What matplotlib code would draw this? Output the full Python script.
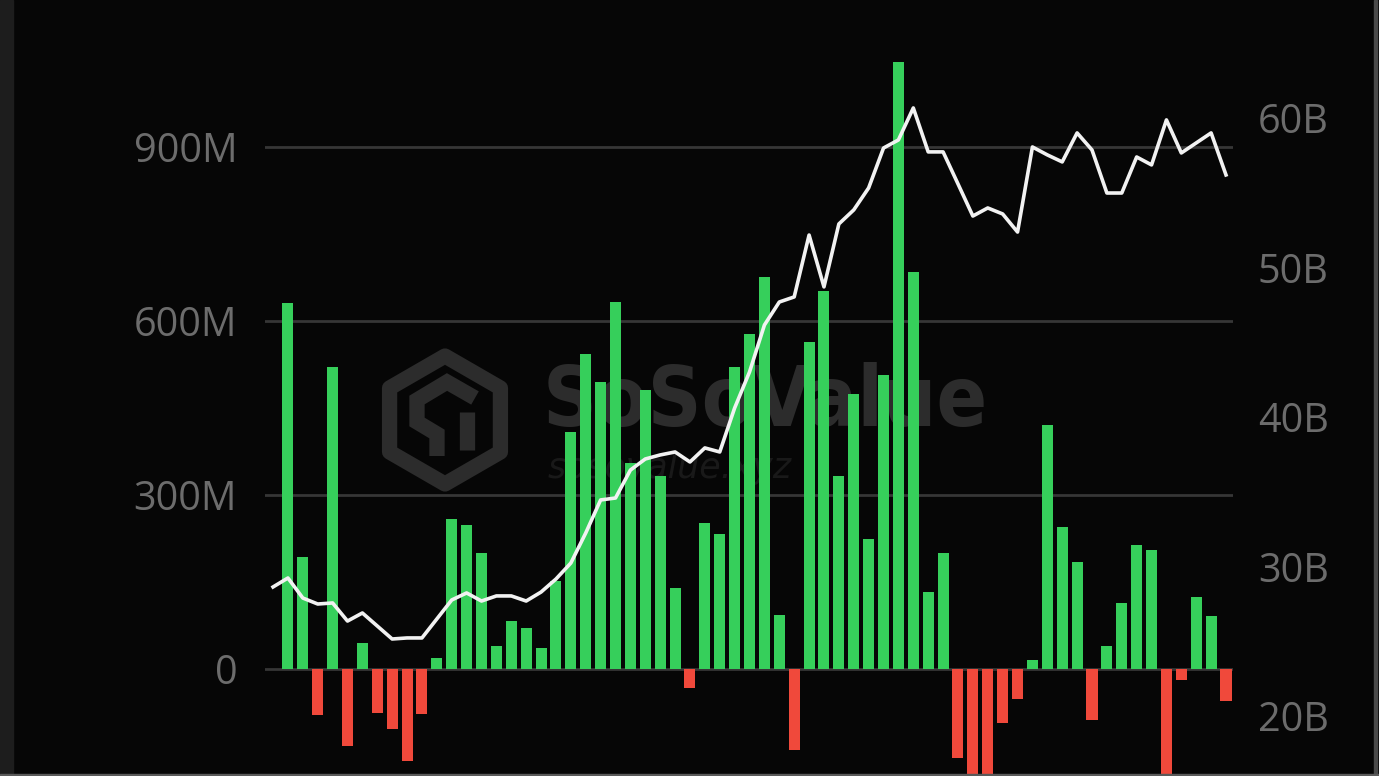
import matplotlib
matplotlib.use("Agg")
import matplotlib.pyplot as plt
from matplotlib.patches import Polygon, Rectangle
import numpy as np

# Daily net inflow (millions USD)
net_inflow_m = [0, 631, 193, -79, 521, -133, 45, -76, -104, -159, -78, 19, 258, 248, 200,
                40, 83, 71, 36, 152, 409, 543, 494, 633, 355, 481, 333, 139, -33, 252,
                233, 520, 577, 675, 93, -139, 564, 651, 333, 474, 224, 507, 1046, 684,
                133, 200, -153, -210, -200, -93, -52, 16, 420, 244, 184, -88, 40, 114,
                213, 205, -195, -19, 124, 92, -55]

# Total net assets (billions USD)
net_assets_b = [28.63, 29.23, 27.89, 27.49, 27.56, 26.35, 26.89, 26.02, 25.15, 25.22, 25.22,
                26.49, 27.76, 28.23, 27.69, 28.03, 28.03, 27.69, 28.29, 29.16, 30.23, 32.24,
                34.45, 34.58, 36.45, 37.19, 37.46, 37.66, 36.99, 37.93, 37.66, 40.60, 43.01,
                46.15, 47.69, 48.03, 52.17, 48.70, 52.91, 53.85, 55.32, 57.99, 58.53, 60.67,
                57.73, 57.73, 55.59, 53.44, 53.98, 53.58, 52.37, 58.06, 57.53, 57.06, 59.00,
                57.86, 54.98, 54.98, 57.39, 56.86, 59.87, 57.66, 58.33, 59.00, 56.19]

left_ticks = [0, 300, 600, 900]
left_labels = ["0", "300M", "600M", "900M"]
right_ticks = [20, 30, 40, 50, 60]
right_labels = ["20B", "30B", "40B", "50B", "60B"]

BG = "#060606"
GREEN = "#36cf5b"
RED = "#f0493b"
GRID = "#363636"
TXT = "#6c6c6c"
WM = "#2c2c2c"

fig = plt.figure(figsize=(13.79, 7.76), dpi=100, facecolor=BG)
W, H = 1379, 776


def fx(px):
    return px / W


def fy(py):
    return 1 - py / H


# frame decorations of the screenshot
fig.add_artist(Rectangle((0, 0), 13 / W, 1, transform=fig.transFigure, color="#1d1d1d", zorder=0))
fig.add_artist(Rectangle((1374 / W, 0), 3 / W, 1, transform=fig.transFigure, color="#4a4a4a", zorder=0))
fig.add_artist(Rectangle((0, 0), 1, 2.5 / H, transform=fig.transFigure, color="#5a5a5a", zorder=5))

ax = fig.add_axes([265 / W, 2 / H, 968 / W, 774 / H])
ax.set_facecolor(BG)
ax.patch.set_alpha(0)

# watermark (drawn below bars, inside the axes)
cx, cy, r = 445, 420, 64
hexpts = [(fx(cx + r * np.cos(np.radians(a))), fy(cy + r * np.sin(np.radians(a))))
          for a in (-90, -30, 30, 90, 150, 210)]
ax.add_patch(Polygon(hexpts, closed=True, transform=fig.transFigure, facecolor="none",
                     edgecolor=WM, lw=11, joinstyle="round", zorder=0.5, clip_on=False))
# inner S-shaped cube strokes
s_path = [(cx + 30, cy - 22), (cx + 2, cy - 38), (cx - 28, cy - 20), (cx - 28, cy + 2),
          (cx - 8, cy + 14), (cx - 8, cy + 36)]
ax.plot([fx(p[0]) for p in s_path], [fy(p[1]) for p in s_path], transform=fig.transFigure,
        color=WM, lw=11, solid_capstyle="butt", solid_joinstyle="miter", zorder=0.5, clip_on=False)
ax.plot([fx(cx + 22), fx(cx + 22)], [fy(cy - 8), fy(cy + 30)], transform=fig.transFigure,
        color=WM, lw=11, solid_capstyle="butt", zorder=0.5, clip_on=False)
ax.text(fx(543), fy(402), "SoSoValue", fontsize=60, fontweight="bold", color=WM,
        fontstretch="condensed", ha="left", va="center", family="DejaVu Sans",
        transform=fig.transFigure, zorder=0.5, clip_on=False)
ax.text(fx(548), fy(468), "sosovalue.xyz", fontsize=25, style="italic", color="#191919",
        ha="left", va="center", family="DejaVu Sans", transform=fig.transFigure, zorder=0.5,
        clip_on=False)

x = np.arange(len(net_inflow_m))
colors = [GREEN if v >= 0 else RED for v in net_inflow_m]
ax.bar(x, net_inflow_m, width=0.74, color=colors, zorder=3)

ax.set_xlim(-0.54, 64.47)
ax.set_ylim(-181, 1153.4)
ax.set_yticks(left_ticks)
ax.set_yticklabels(left_labels)
for t in left_ticks:
    ax.axhline(t, color=GRID, lw=2.0, zorder=1)
ax.set_xticks([])
ax.tick_params(axis="y", length=0, pad=20, labelsize=28.5, labelcolor=TXT)
for lab in ax.get_yticklabels():
    lab.set_fontfamily("Open Sans")
for s in ax.spines.values():
    s.set_visible(False)

ax2 = ax.twinx()
ax2.plot(x, net_assets_b, color="#f2f2f2", lw=2.6, zorder=5, solid_joinstyle="round")
ax2.set_ylim(16.12, 67.89)
ax2.set_yticks(right_ticks)
ax2.set_yticklabels(right_labels)
ax2.tick_params(axis="y", length=0, pad=18, labelsize=28.5, labelcolor=TXT)
for lab in ax2.get_yticklabels():
    lab.set_fontfamily("Open Sans")
for s in ax2.spines.values():
    s.set_visible(False)

fig.savefig("out.png", dpi=100, facecolor=BG)
